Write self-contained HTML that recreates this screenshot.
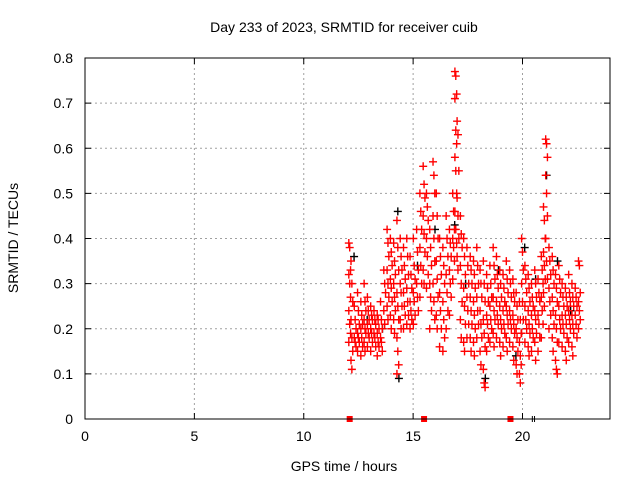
<!DOCTYPE html>
<html><head><meta charset="utf-8"><style>
body{margin:0;background:#fff;}
svg{display:block;font-family:"Liberation Sans",sans-serif;}
</style></head><body>
<svg id="chart" width="640" height="480">
<rect width="640" height="480" fill="#fff"/>
<text x="344" y="32" font-size="14" text-anchor="middle">Day 233 of 2023, SRMTID for receiver cuib</text>
<text x="344" y="471" font-size="14" text-anchor="middle">GPS time / hours</text>
<text x="18" y="238" font-size="14" text-anchor="middle" transform="rotate(-90 18 238)">SRMTID / TECUs</text>
<g id="grid"></g><g id="marks"></g>
<rect x="85" y="58" width="525" height="361" fill="none" stroke="#000" stroke-width="1"/>
</svg>
<script>
const xTicks=[0,5,10,15,20];
const yTicks=[0,0.1,0.2,0.3,0.4,0.5,0.6,0.7,0.8];
const redCols=[
[12.1,[0.39,0.38,0.33,0.32,0.30,0.27,0.24,0.21,0.19,0.17]],
[12.2,[0.35,0.30,0.26,0.22,0.18,0.15,0.13,0.11]],
[12.35,[0.25,0.22,0.20,0.18,0.17,0.16]],
[12.5,[0.28,0.24,0.21,0.19,0.18,0.17,0.15]],
[12.65,[0.26,0.23,0.21,0.20,0.18,0.16,0.14]],
[12.8,[0.30,0.26,0.24,0.22,0.20,0.19,0.17,0.15]],
[12.95,[0.27,0.24,0.22,0.21,0.19,0.18,0.16]],
[13.1,[0.25,0.23,0.22,0.20,0.19,0.17,0.15]],
[13.25,[0.24,0.22,0.21,0.19,0.18,0.16]],
[13.4,[0.23,0.22,0.20,0.19,0.17,0.16,0.14]],
[13.55,[0.26,0.22,0.20,0.18,0.17,0.15]],
[13.7,[0.33,0.30,0.28,0.24,0.21]],
[13.85,[0.42,0.39,0.36,0.33,0.30,0.27,0.25,0.22]],
[14.0,[0.40,0.37,0.34,0.31,0.29,0.26,0.23,0.20]],
[14.15,[0.39,0.35,0.32,0.30,0.27,0.24,0.22,0.19]],
[14.3,[0.44,0.38,0.33,0.28,0.25,0.22,0.18,0.15,0.12,0.10]],
[14.45,[0.40,0.36,0.33,0.30,0.28,0.25,0.22,0.20]],
[14.6,[0.38,0.34,0.31,0.28,0.25,0.23,0.20]],
[14.75,[0.40,0.36,0.32,0.29,0.26,0.23,0.21]],
[14.9,[0.36,0.32,0.29,0.26,0.24,0.22,0.20]],
[15.05,[0.40,0.34,0.31,0.28,0.26,0.23,0.21]],
[15.2,[0.42,0.37,0.33,0.30,0.27,0.24]],
[15.35,[0.50,0.46,0.42,0.38,0.34,0.30,0.27]],
[15.5,[0.56,0.52,0.49,0.45,0.41,0.37,0.33,0.30]],
[15.65,[0.50,0.47,0.44,0.40,0.36,0.32,0.29]],
[15.8,[0.42,0.38,0.34,0.30,0.27,0.24,0.20]],
[15.95,[0.57,0.54,0.50,0.45,0.40,0.35,0.30,0.26,0.22]],
[16.1,[0.50,0.45,0.40,0.35,0.31,0.27,0.23,0.20]],
[16.25,[0.40,0.36,0.32,0.28,0.24,0.20,0.16]],
[16.4,[0.38,0.34,0.30,0.26,0.22,0.18,0.15]],
[16.55,[0.45,0.40,0.36,0.32,0.28,0.24,0.20]],
[16.7,[0.42,0.39,0.36,0.33,0.30,0.27,0.23]],
[16.85,[0.50,0.46,0.42,0.40,0.38,0.35,0.31]],
[16.95,[0.77,0.76,0.72,0.71,0.64,0.61,0.58,0.55,0.50,0.46,0.42,0.39]],
[17.05,[0.66,0.63,0.55,0.49,0.45,0.40,0.36,0.33]],
[17.2,[0.45,0.41,0.38,0.34,0.30,0.26,0.22,0.18]],
[17.35,[0.40,0.36,0.32,0.29,0.25,0.21,0.17,0.15]],
[17.5,[0.38,0.34,0.30,0.27,0.24,0.21,0.18]],
[17.65,[0.36,0.33,0.30,0.27,0.24,0.21,0.18,0.15]],
[17.8,[0.35,0.32,0.29,0.26,0.23,0.20,0.17,0.14]],
[17.95,[0.38,0.34,0.30,0.27,0.24,0.21,0.18]],
[18.1,[0.33,0.30,0.27,0.24,0.21,0.18,0.15,0.12]],
[18.25,[0.35,0.30,0.26,0.22,0.19,0.16,0.11,0.08,0.07]],
[18.4,[0.32,0.29,0.26,0.23,0.21,0.18,0.15]],
[18.55,[0.34,0.30,0.27,0.25,0.22,0.20,0.17]],
[18.7,[0.38,0.34,0.31,0.27,0.24,0.22,0.19,0.16]],
[18.85,[0.36,0.32,0.29,0.26,0.23,0.21,0.18]],
[19.0,[0.33,0.30,0.27,0.25,0.22,0.20,0.17,0.14]],
[19.15,[0.32,0.29,0.26,0.24,0.21,0.19,0.16]],
[19.3,[0.35,0.31,0.28,0.25,0.23,0.21,0.18,0.15]],
[19.45,[0.33,0.30,0.27,0.24,0.22,0.20,0.17]],
[19.6,[0.31,0.28,0.26,0.23,0.21,0.19,0.16,0.13]],
[19.75,[0.28,0.25,0.22,0.20,0.18,0.15,0.12,0.10]],
[19.9,[0.26,0.22,0.19,0.17,0.14,0.12,0.10,0.08]],
[20.0,[0.40,0.37,0.33,0.30,0.26,0.22,0.19]],
[20.15,[0.34,0.31,0.28,0.25,0.22,0.20,0.17]],
[20.3,[0.32,0.29,0.26,0.24,0.21,0.19,0.16,0.14]],
[20.45,[0.30,0.27,0.25,0.23,0.20,0.18,0.15]],
[20.6,[0.33,0.30,0.27,0.24,0.22,0.19,0.17,0.13]],
[20.75,[0.31,0.28,0.26,0.23,0.21,0.18,0.15]],
[20.9,[0.36,0.33,0.30,0.27,0.24,0.21,0.18]],
[21.0,[0.47,0.44,0.40,0.37,0.34,0.31,0.28,0.25]],
[21.1,[0.62,0.61,0.58,0.54,0.50,0.45,0.40,0.35,0.31]],
[21.25,[0.38,0.35,0.32,0.29,0.26,0.23,0.20]],
[21.4,[0.36,0.33,0.30,0.27,0.24,0.21,0.18,0.15]],
[21.55,[0.32,0.29,0.26,0.23,0.20,0.17,0.13,0.11,0.10]],
[21.7,[0.34,0.31,0.28,0.25,0.22,0.20,0.17]],
[21.85,[0.30,0.27,0.25,0.23,0.21,0.19,0.16]],
[22.0,[0.29,0.27,0.25,0.23,0.21,0.18,0.15,0.13]],
[22.15,[0.32,0.28,0.26,0.24,0.22,0.20,0.17]],
[22.3,[0.30,0.27,0.25,0.23,0.21,0.19,0.16,0.14]],
[22.45,[0.29,0.27,0.25,0.23,0.21,0.18]],
[22.6,[0.35,0.34,0.28,0.26,0.24,0.22,0.20]]
];
const blackTimes=[12.3,12.9,13.6,14.3,14.35,15.2,16.0,16.9,17.4,18.3,18.9,19.7,20.1,20.6,21.1,21.6,22.2];
const blackValues=[0.36,0.22,0.20,0.46,0.09,0.34,0.42,0.43,0.30,0.09,0.33,0.14,0.38,0.31,0.54,0.35,0.24];
const zeroRed=[12.1,15.5,19.45];
const zeroBlack=[20.45,20.55];

const xs=v=>85+v*(525/24), ys=v=>419-v*(361/0.8);
const NS='http://www.w3.org/2000/svg';
const grid=document.getElementById('grid'), marks=document.getElementById('marks');
function mk(tag,attrs,parent){const e=document.createElementNS(NS,tag);for(const k in attrs)e.setAttribute(k,attrs[k]);parent.appendChild(e);return e;}
xTicks.forEach(t=>{
  const x=xs(t);
  if(t>0){const l=mk('line',{x1:x,y1:58,x2:x,y2:419,stroke:'#a0a0a0','stroke-dasharray':'2,3'},grid);
  
  }
  mk('line',{x1:x,y1:419,x2:x,y2:413,stroke:'#000'},grid);
  mk('line',{x1:x,y1:58,x2:x,y2:64,stroke:'#000'},grid);
  const tx=mk('text',{x:x,y:441,'font-size':14,'text-anchor':'middle'},grid);tx.textContent=t;
  
  
});
yTicks.forEach(t=>{
  const y=ys(t);
  if(t>0&&t<0.8){const l=mk('line',{x1:85,y1:y,x2:610,y2:y,stroke:'#a0a0a0','stroke-dasharray':'2,3'},grid);
  
  }
  mk('line',{x1:85,y1:y,x2:91,y2:y,stroke:'#000'},grid);
  mk('line',{x1:610,y1:y,x2:604,y2:y,stroke:'#000'},grid);
  const tx=mk('text',{x:73,y:y+5,'font-size':14,'text-anchor':'end'},grid);tx.textContent=(t===0?'0':t.toFixed(1));
  
  
});
function plus(t,v,c){
  const x=xs(t),y=ys(v);
  const p=mk('path',{d:`M${x-4} ${y}h8M${x} ${y-4}v8`,stroke:c,'stroke-width':1.4,fill:'none'},marks);
  
  
}
blackTimes.forEach((t,i)=>plus(t,blackValues[i],'#000'));
redCols.forEach(([t,vals])=>vals.forEach((v,j)=>plus(t+(j%3-1)*0.04,v,'#f00')));
zeroRed.forEach(t=>{const r=mk('rect',{x:xs(t)-3,y:ys(0)-3,width:6,height:6,fill:'#f00'},marks);
  
  });
zeroBlack.forEach(t=>{const r=mk('line',{x1:xs(t),y1:ys(0)-3,x2:xs(t),y2:ys(0)+3,stroke:'#000'},marks);
  
  });
</script>
</body></html>
